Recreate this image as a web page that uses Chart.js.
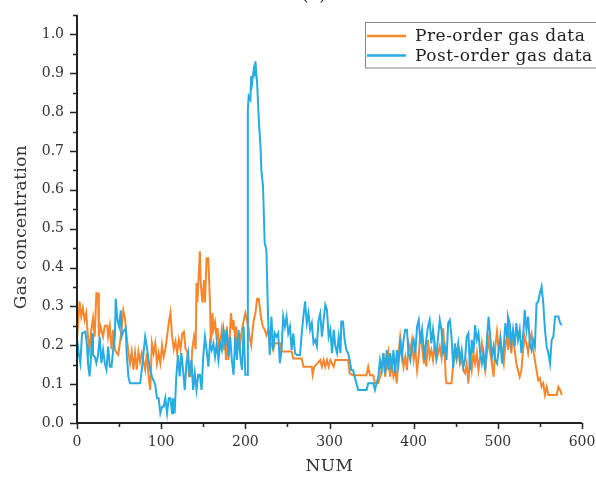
<!DOCTYPE html>
<html>
<head>
<meta charset="utf-8">
<script src="https://cdn.jsdelivr.net/npm/chart.js@4/dist/chart.umd.min.js"></script>
<style>
html,body{margin:0;padding:0;background:#fff;}
#wrap{width:596px;height:482px;position:relative;}
</style>
</head>
<body>
<div id="wrap"><canvas id="c" width="596" height="482"></canvas></div>
<script>
// ---- data ----
const panelTitle = "(a)";
const xTitle = "NUM";
const yTitle = "Gas concentration";
const seriesNames = ["Pre-order gas data", "Post-order gas data"];

const preX = [0,3,5,7,9,11,13,15,17,19,21,23,25,26,28,31,33,36,37,39,41,43,45,47,49,52,55,57,59,61,63,65,67,69,71,73,75,77,81,83,85,87,89,91,93,95,97,99,101,103,105,107,109,111,113,115,117,119,121,123,125,127,129,131,133,135,137,139,141,142,143,146,147,149,151,152,154,156,158,159,161,162,164,166,167,169,170,172,174,175,177,178,180,181,183,185,186,188,189,191,193,194,196,199,200,202,204,205,207,208,210,212,214,216,218,219,221,223,225,227,229,231,233,235,241,243,255,257,267,269,279,280,282,289,291,293,295,297,299,301,305,307,322,324,328,344,346,348,352,354,358,360,362,364,366,368,370,372,374,376,378,380,382,384,386,388,390,392,394,396,398,400,402,404,406,408,410,412,413,415,417,419,421,423,425,427,429,431,433,435,437,438,439,445,447,449,451,453,455,457,459,461,463,465,467,469,471,473,475,477,479,481,483,485,487,489,491,493,495,497,499,501,503,505,507,509,511,512,514,516,518,520,522,524,526,528,530,532,534,536,538,540,542,544,546,548,550,552,554,556,558,560,570,572,574,576];
const preY = [0.214,0.313,0.274,0.296,0.265,0.283,0.222,0.19,0.24,0.27,0.222,0.334,0.334,0.222,0.248,0.222,0.25,0.25,0.222,0.25,0.19,0.24,0.19,0.18,0.175,0.222,0.29,0.27,0.222,0.184,0.154,0.184,0.137,0.18,0.137,0.184,0.158,0.18,0.137,0.18,0.12,0.085,0.205,0.18,0.205,0.154,0.18,0.154,0.2,0.17,0.19,0.222,0.257,0.283,0.222,0.19,0.21,0.18,0.214,0.19,0.23,0.235,0.19,0.184,0.12,0.12,0.19,0.222,0.19,0.36,0.31,0.442,0.36,0.31,0.368,0.31,0.424,0.424,0.31,0.205,0.283,0.24,0.26,0.214,0.244,0.188,0.205,0.24,0.188,0.24,0.162,0.248,0.162,0.205,0.283,0.24,0.265,0.214,0.248,0.188,0.23,0.205,0.24,0.274,0.283,0.265,0.24,0.222,0.2,0.226,0.265,0.283,0.32,0.32,0.283,0.265,0.248,0.24,0.226,0.24,0.205,0.205,0.188,0.205,0.205,0.184,0.184,0.166,0.166,0.145,0.145,0.124,0.145,0.162,0.145,0.162,0.145,0.162,0.145,0.162,0.145,0.162,0.162,0.128,0.123,0.123,0.145,0.123,0.123,0.102,0.102,0.119,0.136,0.18,0.119,0.153,0.18,0.119,0.153,0.119,0.136,0.102,0.18,0.222,0.188,0.145,0.17,0.136,0.205,0.188,0.214,0.162,0.188,0.136,0.17,0.235,0.197,0.153,0.18,0.145,0.214,0.17,0.188,0.162,0.205,0.162,0.18,0.197,0.17,0.244,0.18,0.119,0.102,0.102,0.153,0.18,0.162,0.188,0.153,0.17,0.136,0.128,0.153,0.102,0.17,0.136,0.18,0.153,0.18,0.136,0.17,0.205,0.17,0.136,0.18,0.214,0.18,0.153,0.119,0.197,0.235,0.188,0.222,0.18,0.153,0.205,0.222,0.188,0.222,0.18,0.23,0.188,0.153,0.136,0.119,0.136,0.188,0.222,0.205,0.18,0.214,0.23,0.188,0.162,0.136,0.11,0.115,0.093,0.102,0.072,0.093,0.072,0.072,0.093,0.085,0.072];

const postX = [0,2,4,6,10,12,13,15,17,18,19,21,23,25,27,29,31,33,35,37,39,41,43,45,46,48,50,52,53,55,58,59,61,63,75,77,79,81,83,85,87,89,93,95,97,99,101,103,105,107,109,111,113,114,116,118,120,122,124,126,128,130,132,134,136,138,140,142,144,146,148,150,152,154,156,158,160,162,164,166,168,170,172,174,176,178,180,182,184,186,188,190,192,194,196,198,200,202,203,204,206,207,208,210,211,212,214,216,218,219,221,223,225,227,229,231,233,235,237,239,241,243,245,247,249,251,253,255,257,259,261,265,267,269,271,273,275,277,279,281,283,285,287,289,291,293,295,297,299,301,303,305,307,309,311,313,314,316,318,320,322,324,326,328,330,332,334,344,346,352,354,356,358,360,362,364,366,368,370,372,374,376,378,380,382,384,386,388,390,392,394,396,398,400,402,404,406,408,410,412,413,415,417,419,421,423,425,427,429,431,433,435,437,439,441,443,445,447,449,451,453,455,457,459,461,463,465,467,469,471,473,475,477,479,481,483,485,487,489,491,493,495,497,499,501,503,505,507,509,511,512,514,516,518,520,522,524,526,528,530,532,534,536,538,540,542,544,546,548,550,552,554,556,558,560,562,564,566,568,570,572,574,576];
const postY = [0.218,0.18,0.154,0.231,0.235,0.197,0.154,0.12,0.18,0.231,0.175,0.171,0.154,0.175,0.222,0.154,0.188,0.154,0.137,0.197,0.145,0.145,0.188,0.222,0.32,0.265,0.248,0.29,0.222,0.235,0.244,0.18,0.12,0.102,0.102,0.137,0.18,0.222,0.197,0.162,0.137,0.12,0.098,0.064,0.064,0.025,0.042,0.042,0.064,0.025,0.064,0.064,0.025,0.064,0.025,0.12,0.175,0.12,0.18,0.137,0.085,0.154,0.18,0.12,0.162,0.085,0.128,0.085,0.124,0.124,0.085,0.171,0.222,0.188,0.145,0.205,0.188,0.205,0.171,0.205,0.162,0.205,0.188,0.24,0.205,0.24,0.171,0.222,0.162,0.124,0.222,0.162,0.24,0.171,0.137,0.248,0.124,0.124,0.807,0.841,0.832,0.893,0.875,0.91,0.901,0.931,0.875,0.781,0.712,0.652,0.609,0.463,0.446,0.274,0.175,0.274,0.188,0.231,0.222,0.231,0.154,0.188,0.274,0.248,0.274,0.231,0.248,0.188,0.231,0.18,0.175,0.175,0.231,0.274,0.313,0.257,0.283,0.24,0.257,0.205,0.214,0.197,0.265,0.282,0.222,0.265,0.304,0.291,0.222,0.24,0.18,0.24,0.197,0.18,0.222,0.18,0.261,0.261,0.214,0.188,0.18,0.162,0.136,0.136,0.119,0.102,0.085,0.085,0.102,0.102,0.085,0.102,0.119,0.162,0.136,0.18,0.128,0.188,0.136,0.18,0.136,0.188,0.128,0.188,0.153,0.205,0.17,0.214,0.24,0.24,0.18,0.162,0.197,0.214,0.18,0.248,0.265,0.205,0.24,0.188,0.162,0.214,0.248,0.265,0.205,0.24,0.197,0.17,0.222,0.265,0.24,0.18,0.197,0.162,0.257,0.265,0.222,0.141,0.205,0.17,0.205,0.162,0.188,0.145,0.162,0.222,0.231,0.136,0.214,0.18,0.252,0.214,0.231,0.18,0.153,0.18,0.136,0.214,0.274,0.222,0.17,0.197,0.162,0.153,0.188,0.214,0.153,0.197,0.257,0.222,0.274,0.257,0.205,0.24,0.197,0.257,0.214,0.24,0.18,0.222,0.291,0.24,0.274,0.205,0.188,0.214,0.197,0.308,0.312,0.334,0.351,0.308,0.24,0.197,0.18,0.153,0.214,0.222,0.274,0.274,0.274,0.257,0.252];

const xTickMin = 0, xTickMax = 600, xMinorStep = 50, xMajorStep = 100;
const yTickMin = 0, yTickMax = 1.05, yMinorStep = 0.05;

const seriesColors = ["#F7872C", "#27ABE3"];

// ---- build ----
function pts(xs, ys){ return xs.map((x,i)=>({x:x, y:ys[i]})); }

const axisFont = {family: "DejaVu Serif", size: 14};

const axesPlugin = {
  id: 'axesTicks',
  afterDraw(chart){
    const ctx = chart.ctx, xs = chart.scales.x, ys = chart.scales.y, a = chart.chartArea;
    ctx.save();
    ctx.strokeStyle = '#222';
    ctx.lineWidth = 2;
    ctx.beginPath();
    ctx.moveTo(a.left, ys.getPixelForValue(yTickMax));
    ctx.lineTo(a.left, a.bottom);
    ctx.lineTo(xs.getPixelForValue(xTickMax), a.bottom);
    ctx.stroke();
    ctx.lineWidth = 1.5;
    ys.ticks.forEach(t=>{
      const p = Math.round(ys.getPixelForValue(t.value))+0.5;
      const major = Math.round(t.value*100) % 10 === 0;
      ctx.beginPath();
      ctx.moveTo(a.left - (major?7:4), p);
      ctx.lineTo(a.left, p);
      ctx.stroke();
    });
    xs.ticks.forEach(t=>{
      const p = Math.round(xs.getPixelForValue(t.value))+0.5;
      const major = Math.round(t.value) % xMajorStep === 0;
      ctx.beginPath();
      ctx.moveTo(p, a.bottom);
      ctx.lineTo(p, a.bottom + (major?6:4));
      ctx.stroke();
    });
    // axis titles
    ctx.fillStyle = '#333';
    ctx.font = '17px "DejaVu Serif"';
    ctx.letterSpacing = '0.4px';
    ctx.textAlign = 'center';
    ctx.textBaseline = 'middle';
    ctx.fillText(xTitle, (a.left + a.right)/2, 467);
    ctx.save();
    ctx.translate(22, 227);
    ctx.rotate(-Math.PI/2);
    ctx.fillText(yTitle, 0, 0);
    ctx.restore();
    // panel title (cut off at top as in reference)
    ctx.letterSpacing = '0px';
    ctx.fillStyle = '#222';
    ctx.font = '18px "DejaVu Serif"';
    ctx.textBaseline = 'alphabetic';
    ctx.fillText(panelTitle, 314, 0);
    // legend
    const lx = 365.5, ly = 22.5, lw = 260, lh = 45.5;
    ctx.fillStyle = '#fff';
    ctx.fillRect(lx, ly, lw, lh);
    ctx.strokeStyle = '#888';
    ctx.lineWidth = 1;
    ctx.strokeRect(lx, ly, lw, lh);
    ctx.font = '17px "DejaVu Serif"';
    ctx.letterSpacing = '0.5px';
    ctx.textAlign = 'left';
    chart.data.datasets.forEach((ds, i)=>{
      const y = 36 + i*19.5;
      ctx.strokeStyle = ds.borderColor;
      ctx.lineWidth = 2.5;
      ctx.beginPath();
      ctx.moveTo(367, y);
      ctx.lineTo(406, y);
      ctx.stroke();
      ctx.fillStyle = '#222';
      ctx.textBaseline = 'middle';
      ctx.fillText(ds.label, 415, y+1);
    });
    ctx.restore();
  }
};

new Chart(document.getElementById('c'), {
  type: 'line',
  data: {
    datasets: [
      {label: seriesNames[0], data: pts(preX, preY), borderColor: seriesColors[0], backgroundColor: seriesColors[0], borderWidth: 2, pointRadius: 0, tension: 0, order: 1},
      {label: seriesNames[1], data: pts(postX, postY), borderColor: seriesColors[1], backgroundColor: seriesColors[1], borderWidth: 2, pointRadius: 0, tension: 0, order: 0}
    ]
  },
  options: {
    responsive: false,
    animation: false,
    devicePixelRatio: 1,
    layout: {padding: {left: 0, top: 15, right: 14, bottom: 0}},
    plugins: {legend: {display: false}, tooltip: {enabled: false}, title: {display: false}},
    scales: {
      x: {
        type: 'linear', min: xTickMin, max: xTickMax,
        grid: {display: false, drawTicks: false},
        border: {display: false},
        ticks: {stepSize: xMinorStep, autoSkip: false, maxRotation: 0, padding: 11, color: '#333', font: axisFont,
          callback: v => (Math.round(v) % xMajorStep === 0 ? String(v) : '')},
        title: {display: false},
        afterFit: s => { s.height = 59; s.paddingLeft = 0; s.paddingRight = 0; }
      },
      y: {
        type: 'linear', min: yTickMin, max: yTickMax,
        grid: {display: false, drawTicks: false},
        border: {display: false},
        ticks: {stepSize: yMinorStep, autoSkip: false, padding: 13, color: '#333', font: axisFont,
          callback: v => (Math.round(v*100) % 10 === 0 ? v.toFixed(1) : '')},
        title: {display: false},
        afterFit: s => { s.width = 77; s.paddingTop = 0; s.paddingBottom = 0; }
      }
    }
  },
  plugins: [axesPlugin]
});
</script>
</body>
</html>
